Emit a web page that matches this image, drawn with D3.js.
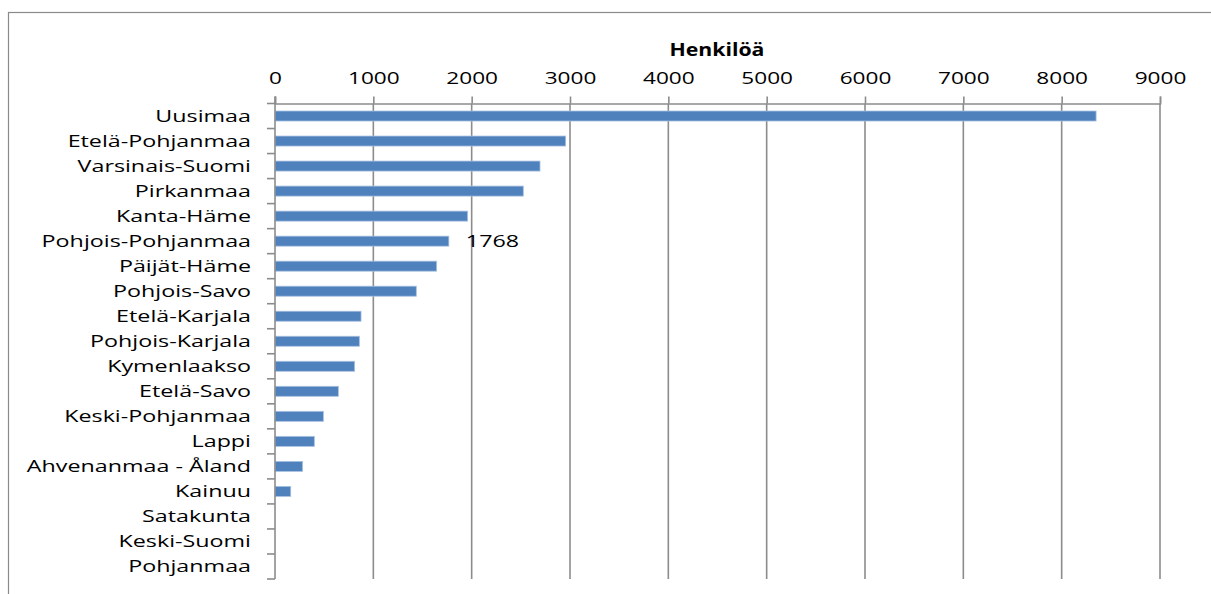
<!DOCTYPE html>
<html>
<head>
<meta charset="utf-8">
<script src="https://cdn.jsdelivr.net/npm/d3@7"></script>
<style>
  html, body { margin: 0; padding: 0; background: #fff; }
  svg { display: block; }
  text { font-family: "Open Sans", "DejaVu Sans", sans-serif; fill: #000; }
</style>
</head>
<body>
<svg id="chart" width="1211" height="594"></svg>
<script>
// Regions ordered by number of persons
const regions = [
  "Uusimaa", "Etelä-Pohjanmaa", "Varsinais-Suomi", "Pirkanmaa", "Kanta-Häme",
  "Pohjois-Pohjanmaa", "Päijät-Häme", "Pohjois-Savo", "Etelä-Karjala",
  "Pohjois-Karjala", "Kymenlaakso", "Etelä-Savo", "Keski-Pohjanmaa", "Lappi",
  "Ahvenanmaa - Åland", "Kainuu", "Satakunta", "Keski-Suomi", "Pohjanmaa"
];
const persons = [
  8350, 2956, 2695, 2525, 1959,
  1768, 1644, 1437, 875,
  858, 810, 644, 492, 400,
  281, 160, 0, 0, 0
];
const xTicks = [0, 1000, 2000, 3000, 4000, 5000, 6000, 7000, 8000, 9000];
const axisTitle = "Henkilöä";
const labelled = ["Pohjois-Pohjanmaa"];

// the typeface is drawn a little wider than it is tall
const STRETCH = 1.37;

const svg = d3.select("#chart");
const margin = { left: 275, top: 103.5, right: 1160, bottom: 579 };
const gridColor = "#8c8c8c";

// outer chart frame
svg.append("rect")
  .attr("x", 8.5).attr("y", 12.5)
  .attr("width", 1220).attr("height", 600)
  .attr("fill", "none").attr("stroke", "#8a8a8a").attr("stroke-width", 1.2);

const x = d3.scaleLinear().domain([0, 9000]).range([margin.left, margin.right]);
const y = d3.scaleBand().domain(regions).range([margin.top, margin.bottom]).paddingInner(0.6).paddingOuter(0.3);
const yEdges = d3.scaleBand().domain(regions).range([margin.top, margin.bottom]).padding(0);

// vertical gridlines
svg.append("g").selectAll("line").data(xTicks.slice(1)).join("line")
  .attr("x1", d => x(d)).attr("x2", d => x(d))
  .attr("y1", margin.top).attr("y2", margin.bottom)
  .attr("stroke", gridColor).attr("stroke-width", 1.6);

// top value axis
const xAxis = svg.append("g")
  .attr("transform", `translate(0,${margin.top})`)
  .call(d3.axisTop(x).tickValues(xTicks).tickSize(7).tickPadding(12.5).tickFormat(d3.format("d")));
xAxis.select(".domain").attr("stroke", gridColor).attr("stroke-width", 1.6);
xAxis.selectAll(".tick line").attr("stroke", gridColor).attr("stroke-width", 1.6);
xAxis.selectAll(".tick text")
  .style("font-size", "16.5px").style("font-family", "'Open Sans', sans-serif").attr("fill", "#000")
  .attr("transform", `scale(${STRETCH},1)`);

// axis title
svg.append("g")
  .attr("transform", `translate(${(x(0) + x(9000)) / 2 - 0.5},56)`)
  .append("text")
  .attr("text-anchor", "middle")
  .attr("transform", "scale(1.25,1)")
  .style("font-size", "17px").style("font-weight", "bold")
  .text(axisTitle);

// bars
svg.append("g").selectAll("rect").data(regions).join("rect")
  .attr("x", x(0))
  .attr("y", (d) => y(d))
  .attr("width", (d, i) => x(persons[i]) - x(0))
  .attr("height", y.bandwidth())
  .attr("fill", "#4f81bd")
  .attr("stroke", "#a9c1e0").attr("stroke-width", 0.8)
  .attr("display", (d, i) => persons[i] > 0 ? null : "none");

// category axis on the left
const yAxisG = svg.append("g");
yAxisG.append("line")
  .attr("x1", x(0)).attr("x2", x(0))
  .attr("y1", margin.top - 7).attr("y2", margin.bottom)
  .attr("stroke", gridColor).attr("stroke-width", 1.6);
const edges = regions.map(r => yEdges(r)).concat([margin.bottom]);
yAxisG.selectAll("line.edge").data(edges).join("line")
  .attr("class", "edge")
  .attr("x1", x(0) - 8).attr("x2", x(0))
  .attr("y1", d => d).attr("y2", d => d)
  .attr("stroke", gridColor).attr("stroke-width", 1.6);
yAxisG.selectAll("g.cat").data(regions).join("g")
  .attr("class", "cat")
  .attr("transform", d => `translate(${x(0) - 24},${yEdges(d) + yEdges.bandwidth() / 2})`)
  .append("text")
  .attr("dy", "0.35em")
  .attr("text-anchor", "end")
  .attr("transform", `scale(${STRETCH},1)`)
  .style("font-size", "17px")
  .text(d => d);

// value label
svg.append("g").selectAll("g").data(labelled).join("g")
  .attr("transform", d => `translate(${x(persons[regions.indexOf(d)]) + 17},${y(d) + y.bandwidth() / 2})`)
  .append("text")
  .attr("dy", "0.35em")
  .attr("transform", `scale(${STRETCH},1)`)
  .style("font-size", "17px")
  .text(d => persons[regions.indexOf(d)]);
</script>
</body>
</html>
